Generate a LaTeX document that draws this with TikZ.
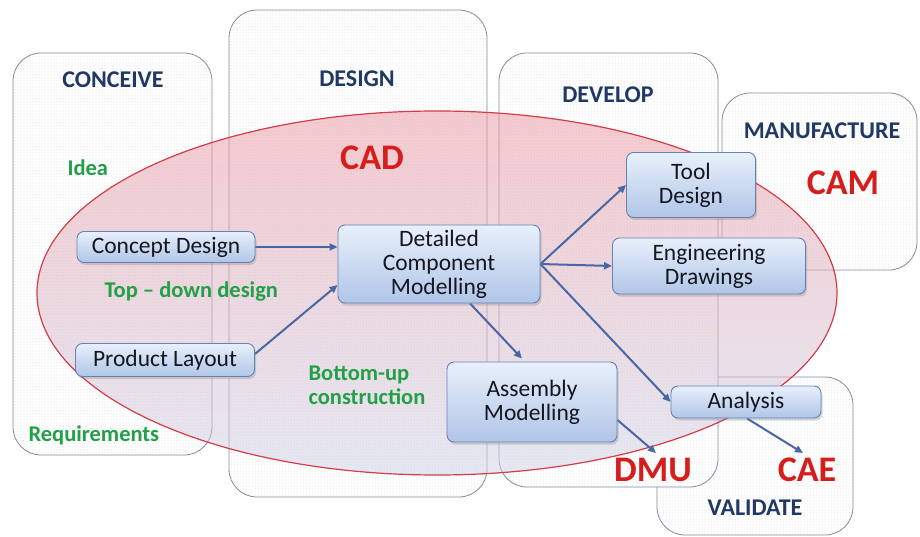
\documentclass[tikz,border=0pt]{standalone}
\usepackage{fontspec}
\setmainfont{Carlito}
\usetikzlibrary{arrows.meta,shadows,patterns}

\definecolor{panelline}{RGB}{128,138,158}
\definecolor{titleblue}{RGB}{32,56,100}
\definecolor{labelgreen}{RGB}{34,160,72}
\definecolor{labelred}{RGB}{215,28,28}
\definecolor{boxtop}{RGB}{232,240,251}
\definecolor{boxbottom}{RGB}{176,197,231}
\definecolor{boxline}{RGB}{100,130,180}
\definecolor{boxtext}{RGB}{20,22,32}
\definecolor{flow}{RGB}{72,104,165}
\definecolor{cadtop}{RGB}{236,150,160}
\definecolor{cadbottom}{RGB}{205,210,232}
\definecolor{cadline}{RGB}{212,60,72}

\pgfdeclarelayer{back}
\pgfdeclarelayer{flows}
\pgfsetlayers{back,flows,main}

\begin{document}
\begin{tikzpicture}[x=1pt,y=-1pt,
  panel/.style={draw=panelline, line width=0.8pt, rounded corners=28pt, fill=white,
    postaction={pattern=dots, pattern color=black!18}},
  stage/.style={font=\fontsize{24}{24}\selectfont\bfseries, text=titleblue},
  note/.style={font=\fontsize{22.5}{24}\selectfont\bfseries, text=labelgreen, align=left},
  tool/.style={font=\fontsize{36}{36}\selectfont\bfseries, text=labelred},
  box/.style={draw=boxline, line width=0.9pt, rounded corners=7pt,
    top color=boxtop, bottom color=boxbottom,
    drop shadow={shadow xshift=1.5pt, shadow yshift=-2.5pt, opacity=0.3},
    font=\fontsize{23.5}{24}\selectfont, text=boxtext, align=center, inner sep=2pt},
  flowarrow/.style={draw=flow, line width=2pt, -{Triangle[length=8pt,width=7pt]}}
]
\useasboundingbox (0,0) rectangle (920,537);

\begin{pgfonlayer}{back}
\fill[white] (0,0) rectangle (920,537);

% lifecycle stage panels
\draw[panel] (13,53) rectangle (212,455);
\draw[panel] (229,10) rectangle (487,497);
\draw[panel] (657,377) rectangle (853,535);
\draw[panel] (499,53) rectangle (718,487);
\draw[panel] (722,93) rectangle (917,270);

% CAD region
\draw[draw=cadline, line width=1.2pt, top color=cadtop, bottom color=cadbottom, fill opacity=0.5]
  (437,293) ellipse [x radius=400, y radius=182];

% stage titles
\node[stage] (conceive) at (113,80) {CONCEIVE};
\node[stage] (design) at (357,79) {DESIGN};
\node[stage] (develop) at (608,95) {DEVELOP};
\node[stage] (manufacture) at (822,131) {MANUFACTURE};
\node[stage] (validate) at (755,508) {VALIDATE};

% tool domains
\node[tool] (cad) at (372,158) {CAD};
\node[tool] (cam) at (843,183) {CAM};
\node[tool] (dmu) at (653,470) {DMU};
\node[tool] (cae) at (807,470) {CAE};

% notes
\node[note, anchor=west] (idea) at (64,168) {Idea};
\node[note, anchor=west] (topdown) at (101,292) {Top – down design};
\node[note, anchor=west] (bottomup) at (305,385) {Bottom-up\\construction};
\node[note, anchor=west] (req) at (25,435) {Requirements};
\end{pgfonlayer}

% activity boxes
\node[box, minimum width=178pt, minimum height=31pt] (cd) at (166,247) {Concept Design};
\node[box, minimum width=179pt, minimum height=33pt] (pl) at (165,360) {Product Layout};
\node[box, minimum width=202pt, minimum height=78pt] (det) at (439,264) {Detailed\\Component\\Modelling};
\node[box, minimum width=129pt, minimum height=65pt] (tl) at (691,185) {Tool\\Design};
\node[box, minimum width=193pt, minimum height=56pt] (eng) at (709,266) {Engineering\\Drawings};
\node[box, minimum width=170pt, minimum height=80pt] (asm) at (532,402) {Assembly\\Modelling};
\node[box, minimum width=150pt, minimum height=32pt] (an) at (746,402) {Analysis};

\coordinate (dmuin) at (656,453);
\coordinate (caein) at (803,453);

% flows, kept beneath the boxes
\begin{pgfonlayer}{flows}
\draw[flowarrow] (cd.east) -- (cd.east -| det.west);
\draw[flowarrow] ([yshift=6pt]pl.east) -- ([yshift=-21pt]det.west);
\draw[flowarrow] (det.east) -- (tl.west);
\draw[flowarrow] (det.east) -- (eng.west);
\draw[flowarrow] (det.east) -- (an.west);
\draw[flowarrow] ([xshift=31pt]det.south) -- ([xshift=-10pt,yshift=3pt]asm.north);
\draw[flowarrow] ([yshift=-18pt]asm.east) -- (dmuin);
\draw[flowarrow] ([xshift=1pt]an.south) -- (caein);
\end{pgfonlayer}
\end{tikzpicture}
\end{document}
